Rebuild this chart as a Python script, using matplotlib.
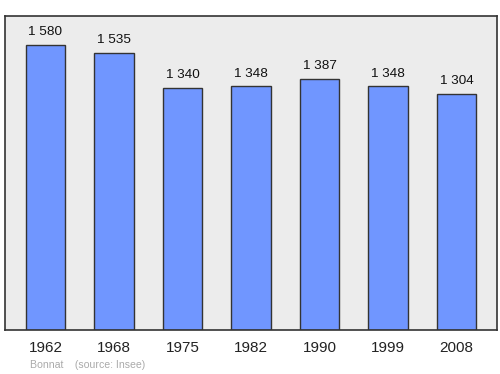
import matplotlib.pyplot as plt

years = ["1962", "1968", "1975", "1982", "1990", "1999", "2008"]
population = [1580, 1535, 1340, 1348, 1387, 1348, 1304]
labels = ["1 580", "1 535", "1 340", "1 348", "1 387", "1 348", "1 304"]

plt.rcParams['font.family'] = ['Liberation Sans', 'DejaVu Sans']

fig = plt.figure(figsize=(5, 3.74), dpi=100)
ax = fig.add_axes([5 / 500, 1 - 330 / 374, 492 / 500, 314 / 374])
ax.set_facecolor('#ececec')

x = list(range(len(years)))
ax.bar(x, population, width=0.57, color='#7096ff', edgecolor='#333333',
       linewidth=1, zorder=2)

for xi, v, lab in zip(x, population, labels):
    ax.annotate(lab, (xi, v), xytext=(0, 5), textcoords='offset points',
                ha='center', va='bottom', fontsize=9.7, color='#111111')

ax.set_xlim(-0.591, 6.591)
ax.set_ylim(0, 1738)
ax.set_yticks([])
ax.set_xticks(x)
ax.set_xticklabels(years, fontsize=11, color='#222222')
ax.tick_params(axis='x', length=0, pad=8)
for s in ax.spines.values():
    s.set_color('#333333')
    s.set_linewidth(1.2)

fig.text(30 / 500, 1 - 365 / 374, "Bonnat    (source: Insee)", fontsize=7.6,
         color='#aaaaaa', ha='left', va='center')

fig.savefig('out.png', dpi=100)
